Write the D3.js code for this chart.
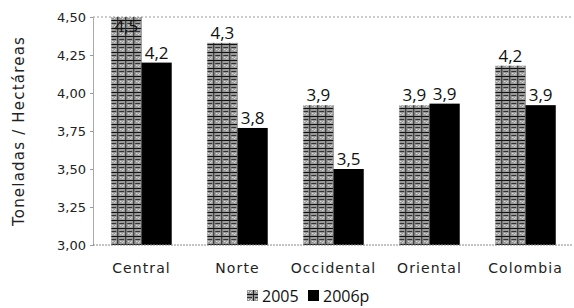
<!DOCTYPE html>
<html>
<head>
<meta charset="utf-8">
<script src="https://cdn.jsdelivr.net/npm/d3@7"></script>
<style>
  body { margin: 0; background: #fff; }
  svg { display: block; }
  text { font-family: "DejaVu Sans", sans-serif; fill: #111; }
</style>
</head>
<body>
<svg id="chart" width="574" height="308"></svg>
<script>
const categories = ['Central', 'Norte', 'Occidental', 'Oriental', 'Colombia'];
const series = ['2005', '2006p'];
const values2005 = [4.50, 4.33, 3.92, 3.92, 4.18];
const values2006 = [4.20, 3.77, 3.50, 3.93, 3.92];
const yTicks = [3.00, 3.25, 3.50, 3.75, 4.00, 4.25, 4.50];

const margin = { top: 17, right: 0, bottom: 63, left: 93 };
const W = 574, H = 308;

let svg = d3.select('#chart');

// plaid-ish fill for the 2005 bars
let defs = svg.append('defs');
let pat = defs.append('pattern')
  .attr('id', 'plaid')
  .attr('patternUnits', 'userSpaceOnUse')
  .attr('width', 8).attr('height', 8);
pat.append('rect').attr('width', 8).attr('height', 8).attr('fill', '#999');
pat.append('rect').attr('x', 1).attr('y', 1).attr('width', 1).attr('height', 1).attr('fill', '#eee');
pat.append('rect').attr('x', 3).attr('y', 2).attr('width', 1).attr('height', 1).attr('fill', '#eee');
pat.append('rect').attr('x', 4).attr('y', 1).attr('width', 1).attr('height', 1).attr('fill', '#ddd');
pat.append('rect').attr('x', 0).attr('y', 4).attr('width', 8).attr('height', 1).attr('fill', '#111');
pat.append('rect').attr('x', 0).attr('y', 7).attr('width', 5).attr('height', 1).attr('fill', '#333');
pat.append('rect').attr('x', 6).attr('y', 0).attr('width', 1).attr('height', 8).attr('fill', '#222');

let x = d3.scaleBand()
  .domain(categories)
  .range([margin.left, W - margin.right])
  .paddingInner(0.37)
  .paddingOuter(0.19);

let xs = d3.scaleBand()
  .domain(series)
  .range([0, x.bandwidth()]);

let y = d3.scaleLinear()
  .domain([3, 4.5])
  .range([H - margin.bottom, margin.top]);

// top dotted border
svg.append('line')
  .attr('x1', margin.left).attr('x2', W - 2)
  .attr('y1', y(4.5)).attr('y2', y(4.5))
  .attr('stroke', '#999').attr('stroke-dasharray', '2,2');

// y axis
let yAxis = svg.append('g')
  .attr('transform', `translate(${margin.left},0)`)
  .call(d3.axisLeft(y).tickValues(yTicks).tickSize(3)
    .tickFormat(d => d3.format('.2f')(d).replace('.', ',')));
yAxis.select('.domain').attr('stroke', '#aaa');
yAxis.selectAll('.tick line').attr('stroke', '#999');
yAxis.selectAll('.tick text').attr('font-size', 13).attr('x', -7).style('fill', '#222');

svg.append('text')
  .attr('transform', `translate(24,${(y(3) + y(4.5)) / 2}) rotate(-90)`)
  .attr('text-anchor', 'middle')
  .attr('font-size', 15)
  .attr('letter-spacing', 1.2)
  .style('fill', '#222')
  .text('Toneladas / Hectáreas');

let rows = categories.map((c, i) => ({ cat: c, vals: [values2005[i], values2006[i]] }));

let groups = svg.append('g').selectAll('g')
  .data(rows).join('g')
  .attr('transform', d => `translate(${x(d.cat)},0)`);

groups.selectAll('rect')
  .data(d => d.vals.map((v, j) => ({ s: series[j], v })))
  .join('rect')
  .attr('x', d => xs(d.s))
  .attr('y', d => y(d.v))
  .attr('width', xs.bandwidth())
  .attr('height', d => y(3) - y(d.v))
  .attr('fill', d => d.s === '2005' ? 'url(#plaid)' : '#000');

groups.selectAll('text.lbl')
  .data(d => d.vals.map((v, j) => ({ s: series[j], v })))
  .join('text')
  .attr('class', 'lbl')
  .attr('x', d => xs(d.s) + xs.bandwidth() / 2)
  .attr('y', d => Math.max(y(d.v) - 4, 32))
  .attr('text-anchor', 'middle')
  .attr('font-size', 17)
  .style('font-family', '"Open Sans", sans-serif')
  .text(d => d3.format('.1f')(d.v).replace('.', ','));

// bottom dotted baseline
svg.append('line')
  .attr('x1', margin.left).attr('x2', W - 2)
  .attr('y1', y(3)).attr('y2', y(3))
  .attr('stroke', '#888').attr('stroke-dasharray', '2,1');

// category labels
svg.append('g').selectAll('text')
  .data(categories).join('text')
  .attr('x', d => x(d) + x.bandwidth() / 2)
  .attr('y', 273)
  .attr('text-anchor', 'middle')
  .attr('font-size', 14)
  .attr('letter-spacing', 1.1)
  .style('fill', '#222')
  .text(d => d);

// legend
let legend = svg.append('g').attr('transform', 'translate(247,290)');
let legendItems = [
  { s: series[0], fill: 'url(#plaid)', x: 0 },
  { s: series[1], fill: '#000', x: 61 },
];
legend.selectAll('rect')
  .data(legendItems).join('rect')
  .attr('x', d => d.x).attr('y', 0)
  .attr('width', 11).attr('height', 11)
  .attr('fill', d => d.fill);
legend.selectAll('text')
  .data(legendItems).join('text')
  .attr('x', d => d.x + 15).attr('y', 12)
  .attr('font-size', 16)
  .style('font-family', '"Open Sans", sans-serif')
  .text(d => d.s);
</script>
</body>
</html>
